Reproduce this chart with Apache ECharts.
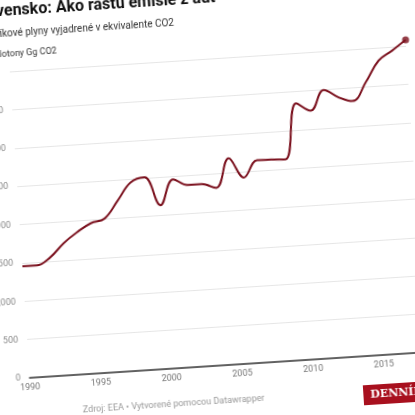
<!DOCTYPE html>
<html>
<head>
<meta charset="utf-8">
<script src="https://cdn.jsdelivr.net/npm/echarts@6/dist/echarts.min.js"></script>
<style>
  html, body {
    margin: 0;
    padding: 0;
    width: 415px;
    height: 415px;
    overflow: hidden;
    background: #ffffff;
  }
  #chart {
    position: absolute;
    left: -30px;
    top: -20px;
    width: 475px;
    height: 450px;
    transform: rotate(-3.7deg);
    transform-origin: 237.5px 227.5px;
  }
</style>
</head>
<body>
<div id="chart"></div>
<script>
// Slovensko - emisie z dopravy, kilotony Gg CO2
const years = ['1990', '1991', '1992', '1993', '1994', '1995', '1996', '1997', '1998', '1999',
  '2000', '2001', '2002', '2003', '2004', '2005', '2006', '2007', '2008', '2009',
  '2010', '2011', '2012', '2013', '2014', '2015', '2016', '2017', '2018']
const emissions = [1457, 1455, 1549, 1721, 1853, 1958, 2008, 2229, 2455, 2510,
  2135, 2460, 2374, 2373, 2314, 2686, 2425, 2640, 2635, 2626,
  3346, 3238, 3496, 3390, 3328, 3560, 3830, 3950, 4078]
const yTicks = [0, 500, 1000, 1500, 2000, 2500, 3000, 3500, 4000]
const xLabelYears = ['1990', '1995', '2000', '2005', '2010', '2015']

const titleText = 'Slovensko: Ako rastú emisie z áut'
const subtitleText = 'Skleníkové plyny vyjadrené v ekvivalente CO2'
const unitText = 'Kilotony Gg CO2'
const footerText = 'Zdroj: EEA • Vytvorené pomocou Datawrapper'
const logoText = 'DENNÍK N'

const lineColor = '#7a0f1c'

const chart = echarts.init(document.getElementById('chart'))

// only the last year gets a dot
const lastPoint = emissions.map((v, i) => (i === emissions.length - 1 ? v : null))

const option = {
  animation: false,
  textStyle: {
    fontFamily: 'Roboto'
  },
  grid: {
    left: 49,
    right: 29,
    top: 79,
    bottom: 64
  },
  xAxis: {
    type: 'category',
    data: years,
    boundaryGap: false,
    axisLine: {
      lineStyle: {
        color: '#333333',
        width: 1.5
      }
    },
    axisTick: {
      show: false
    },
    axisLabel: {
      margin: 5,
      fontSize: 9,
      color: '#777777',
      interval: (index, value) => xLabelYears.includes(value)
    },
    splitLine: {
      show: false
    }
  },
  yAxis: {
    type: 'value',
    min: yTicks[0],
    max: yTicks[yTicks.length - 1],
    interval: 500,
    axisLine: {
      show: false
    },
    axisTick: {
      show: false
    },
    axisLabel: {
      margin: 9,
      fontSize: 9,
      color: '#8c8c8c',
      formatter: (v) => (v === 4000 ? '' : v.toLocaleString('en-US'))
    },
    splitLine: {
      lineStyle: {
        color: '#e6e6e6',
        width: 1
      }
    }
  },
  series: [
    {
      type: 'line',
      data: emissions,
      smooth: 0.4,
      showSymbol: false,
      clip: false,
      lineStyle: {
        color: lineColor,
        width: 2
      }
    },
    {
      type: 'scatter',
      data: lastPoint,
      symbol: 'circle',
      symbolSize: 7,
      clip: false,
      itemStyle: {
        color: lineColor
      }
    }
  ],
  graphic: [
    {
      type: 'text',
      x: 16,
      y: 19,
      style: {
        text: titleText,
        font: 'bold 16px Roboto',
        fill: '#111111',
        verticalAlign: 'middle'
      }
    },
    {
      type: 'text',
      x: 17,
      y: 41,
      style: {
        text: subtitleText,
        font: '10px Roboto',
        fill: '#333333',
        verticalAlign: 'middle'
      }
    },
    {
      type: 'text',
      x: 32,
      y: 62,
      style: {
        text: unitText,
        font: '9px Roboto',
        fill: '#333333',
        verticalAlign: 'middle'
      }
    },
    {
      type: 'text',
      x: 100,
      y: 422,
      style: {
        text: footerText,
        font: '9px Roboto',
        fill: '#999999',
        verticalAlign: 'middle'
      }
    },
    {
      type: 'rect',
      x: 381,
      y: 415,
      shape: {width: 110, height: 20},
      style: {
        fill: '#a8101e'
      }
    },
    {
      type: 'text',
      x: 388,
      y: 425,
      style: {
        text: logoText,
        font: 'bold 11px "DejaVu Serif"',
        fill: '#ffffff',
        verticalAlign: 'middle'
      }
    }
  ]
}

chart.setOption(option)
</script>
</body>
</html>
